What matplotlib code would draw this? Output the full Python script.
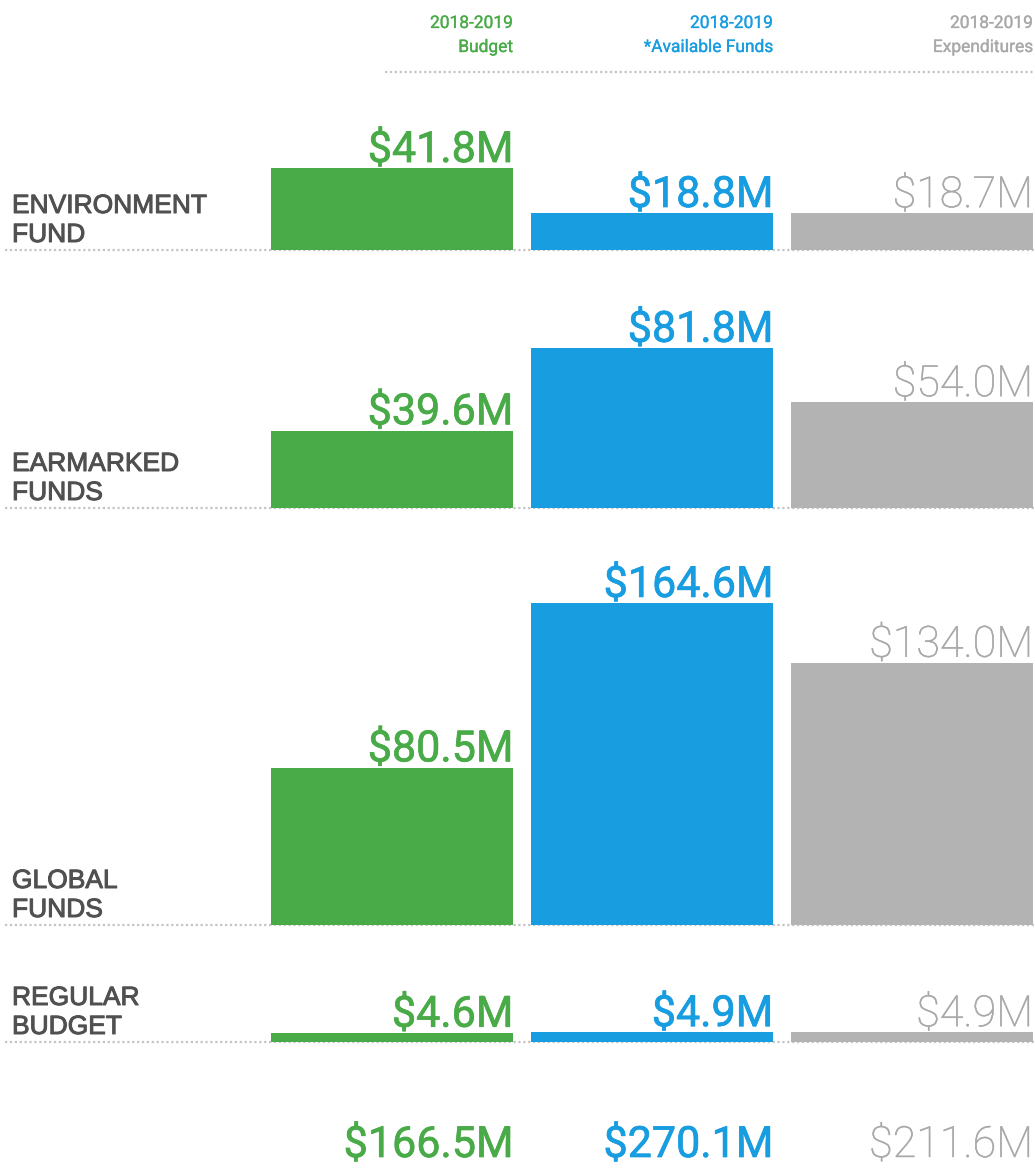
import matplotlib
matplotlib.use("Agg")
import matplotlib.pyplot as plt
from matplotlib import transforms
import matplotlib.patheffects as pe

# ---- data ----
rows = ["ENVIRONMENT\nFUND", "EARMARKED\nFUNDS", "GLOBAL\nFUNDS", "REGULAR\nBUDGET"]
budget = [41.8, 39.6, 80.5, 4.6]
available = [18.8, 81.8, 164.6, 4.9]
expenditures = [18.7, 54.0, 134.0, 4.9]
totals = [166.5, 270.1, 211.6]
header_years = ["2018-2019", "2018-2019", "2018-2019"]
header_names = ["Budget", "*Available Funds", "Expenditures"]

# ---- style / layout ----
W, H, DPI = 1035, 1170, 100
bar_colors = ["#49ab48", "#189de0", "#b3b3b3"]
text_colors = ["#49ab48", "#189de0", "#a9a9a9"]
weights = ["normal", "normal", "light"]
strokes = [0.5, 0.5, 0.35]
label_color = "#505050"
dot_color = "#c4c4c4"
baselines_px = [250, 508, 925, 1042]
PX_PER_M = 1.955
X0_PX, STEP_PX, BAR_PX = 392, 260, 242
LINE_PITCH = 29

fig = plt.figure(figsize=(W / DPI, H / DPI), dpi=DPI)
fig.patch.set_facecolor("white")

def fy(px):
    return 1 - px / H

def thick(i):
    return [pe.withStroke(linewidth=strokes[i], foreground=text_colors[i])]

series = [budget, available, expenditures]
xlim = (-X0_PX / STEP_PX, (W - X0_PX) / STEP_PX)
bw = BAR_PX / STEP_PX
axes = []
for r, base in enumerate(baselines_px):
    ax = fig.add_axes([0, fy(base), 1, base / H])
    ax.set_xlim(*xlim)
    ax.set_ylim(0, base / PX_PER_M)
    ax.axis("off")
    ax.patch.set_alpha(0)
    ax.plot([xlim[0] + 5 / STEP_PX, xlim[1]], [0, 0], color=dot_color,
            lw=1.6, linestyle=(0, (1, 1.2)), zorder=1, clip_on=False)
    for i in range(3):
        v = series[i][r]
        ax.bar(i, v, width=bw, color=bar_colors[i], zorder=2)
        ax.annotate(f"${v:.1f}M", xy=(i + bw / 2, v), xytext=(0, 4.5),
                    textcoords="offset points", ha="right", va="baseline",
                    fontsize=31, family="Roboto", fontweight=weights[i],
                    color=text_colors[i], path_effects=thick(i))
    lines = rows[r].split("\n")
    for k, line in enumerate(lines):
        ypx = base - 8 - LINE_PITCH * (len(lines) - 1 - k)
        fig.text(12 / W, fy(ypx), line, ha="left", va="baseline",
                 fontsize=19, family="Liberation Sans", color=label_color,
                 path_effects=[pe.withStroke(linewidth=0.7, foreground=label_color)])
    axes.append(ax)

ax0 = axes[0]
tr = transforms.blended_transform_factory(ax0.transData, fig.transFigure)
for i in range(3):
    xr = i + bw / 2
    hdr_pe = [pe.withStroke(linewidth=0.2, foreground=text_colors[i])]
    fig.text(xr, fy(28), header_years[i], transform=tr, ha="right", va="baseline",
             fontsize=12.5, family="Roboto", color=text_colors[i], path_effects=hdr_pe)
    fig.text(xr, fy(52), header_names[i], transform=tr, ha="right", va="baseline",
             fontsize=12.5, family="Roboto", color=text_colors[i], path_effects=hdr_pe)
    fig.text(xr, fy(1157), f"${totals[i]:.1f}M", transform=tr, ha="right",
             va="baseline", fontsize=31, family="Roboto", fontweight=weights[i],
             color=text_colors[i], path_effects=thick(i))

# header dotted line
fig.add_artist(plt.Line2D([385 / W, 1], [fy(72), fy(72)], transform=fig.transFigure,
                          color=dot_color, lw=1.6, linestyle=(0, (1, 1.2))))

fig.savefig("out.png", dpi=DPI, facecolor="white")
